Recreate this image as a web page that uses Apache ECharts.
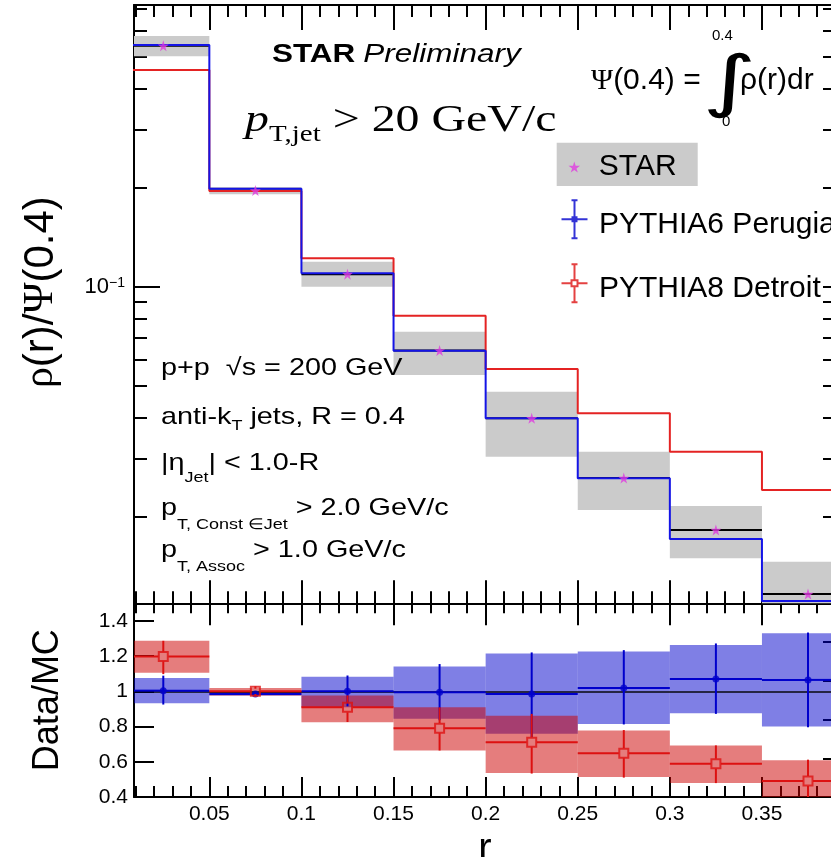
<!DOCTYPE html>
<html><head><meta charset="utf-8">
<script src="https://cdn.jsdelivr.net/npm/echarts@6/dist/echarts.min.js"></script>
<style>html,body{margin:0;padding:0;background:#fff;}#c{width:831px;height:857px;}</style>
</head><body><div id="c"></div>
<script>
// ---------------- data ----------------
const binEdges = [0.00, 0.05, 0.10, 0.15, 0.20, 0.25, 0.30, 0.35, 0.40];
const starValues   = [0.540, 0.1960, 0.1092, 0.0640, 0.0398, 0.0262, 0.0182, 0.01163];
const starSysLow   = [0.502, 0.1910, 0.1000, 0.0539, 0.0304, 0.02095, 0.01493, 0.0092];
const starSysHigh  = [0.578, 0.2010, 0.1191, 0.0730, 0.0479, 0.0315, 0.02155, 0.01459];
const pythia6Values = [0.543, 0.1985, 0.1098, 0.0639, 0.0398, 0.02615, 0.0171, 0.01108];
const pythia8Values = [0.456, 0.1955, 0.1220, 0.0816, 0.0562, 0.0412, 0.0315, 0.0241];

const p6Ratio    = [1.004, 0.985, 1.000, 0.995, 0.985, 1.019, 1.070, 1.065];
const p6StatLow  = [0.925, 0.978, 0.915, 0.836, 0.740, 0.812, 0.872, 0.796];
const p6StatHigh = [1.089, 0.992, 1.090, 1.155, 1.221, 1.234, 1.272, 1.334];
const p6BandLow  = [0.932, 0.977, 0.910, 0.844, 0.759, 0.815, 0.876, 0.800];
const p6BandHigh = [1.076, 0.995, 1.083, 1.141, 1.215, 1.226, 1.263, 1.330];

const p8Ratio    = [1.198, 1.000, 0.909, 0.791, 0.711, 0.649, 0.589, 0.491];
const p8StatLow  = [1.098, 0.985, 0.826, 0.664, 0.533, 0.510, 0.479, 0.370];
const p8StatHigh = [1.287, 1.015, 0.977, 0.909, 0.872, 0.780, 0.693, 0.612];
const p8BandLow  = [1.105, 0.976, 0.825, 0.664, 0.536, 0.513, 0.479, 0.360];
const p8BandHigh = [1.287, 1.019, 0.976, 0.909, 0.862, 0.778, 0.693, 0.608];

const xMajorTicks = [0.05, 0.10, 0.15, 0.20, 0.25, 0.30, 0.35];
const xMinorTicks = [0.01, 0.02, 0.03, 0.04, 0.06, 0.07, 0.08, 0.09, 0.11, 0.12, 0.13, 0.14,
  0.16, 0.17, 0.18, 0.19, 0.21, 0.22, 0.23, 0.24, 0.26, 0.27, 0.28, 0.29, 0.31, 0.32, 0.33, 0.34,
  0.36, 0.37, 0.38, 0.39];
const yLogMajorTicks = [0.1];
const yLogMinorTicks = [0.02, 0.03, 0.04, 0.05, 0.06, 0.07, 0.08, 0.09, 0.2, 0.3, 0.4, 0.5, 0.6, 0.7];
const ratioTicks = [0.4, 0.6, 0.8, 1.0, 1.2, 1.4];

// ---------------- style ----------------
const FONT = 'Liberation Sans';
const SERIF = 'Liberation Serif';
const BLUE = '#1414e6';
const RED = '#e42323';
const BLUE_R = '#0000cc';
const RED_R = '#dd1111';
const MAGENTA = '#e03ce0';
const GRAY = '#cbcbcb';
const X_MIN = 0.0091, X_MAX = 0.3902;
const Y_MIN = 0.0109, Y_MAX = 0.7187;

const STAR_PATH = 'path://M50,0 L61,35 L98,35 L68,57 L79,91 L50,70 L21,91 L32,57 L2,35 L39,35 Z';
const CROSS_FILLED = 'path://M12,0h2v40h-2z M10,0h6v2h-6z M10,38h6v2h-6z M0,19h26v2h-26z M10,17h6v6h-6z';
const CROSS_OPEN = 'path://M12,0h2v16h-2z M10,0h6v2h-6z M12,24h2v16h-2z M10,38h6v2h-6z M0,19h9v2h-9z M17,19h9v2h-9z M9,16h8v8h-8z M11,18v4h4v-4z';

// ---------------- derived tables ----------------
const centers = starValues.map((v, i) => (binEdges[i] + binEdges[i + 1]) / 2);
function stepData(vals) {
  const d = vals.map((v, i) => [binEdges[i], v]);
  d.push([binEdges[vals.length], vals[vals.length - 1]]);
  return d;
}
function bandData(lo, hi) { return lo.map((l, i) => [binEdges[i], binEdges[i + 1], l, hi[i]]); }
function errData(vals, lo, hi) { return vals.map((v, i) => [binEdges[i], binEdges[i + 1], centers[i], v, lo[i], hi[i]]); }

function clipRect(r, cs) {
  return echarts.graphic.clipRectByRect(r, { x: cs.x, y: cs.y, width: cs.width, height: cs.height });
}
function bandRender(fill) {
  return function (params, api) {
    const a = api.coord([api.value(0), api.value(3)]);
    const b = api.coord([api.value(1), api.value(2)]);
    const shape = clipRect({ x: a[0], y: a[1], width: b[0] - a[0], height: b[1] - a[1] }, params.coordSys);
    return shape && { type: 'rect', shape: shape, style: { fill: fill } };
  };
}
function hLineRender(color) {
  return function (params, api) {
    const cs = params.coordSys;
    const a = api.coord([api.value(0), api.value(2)]);
    const b = api.coord([api.value(1), api.value(2)]);
    if (a[1] < cs.y || a[1] > cs.y + cs.height) return null;
    return { type: 'line', shape: { x1: Math.max(a[0], cs.x), y1: a[1], x2: Math.min(b[0], cs.x + cs.width), y2: b[1] },
      style: { stroke: color, lineWidth: 2 } };
  };
}
function errRender(color, gap) {
  return function (params, api) {
    const cs = params.coordSys;
    const yTop = cs.y, yBot = cs.y + cs.height, xL = cs.x, xR = cs.x + cs.width;
    const clY = v => Math.min(Math.max(v, yTop), yBot);
    const a = api.coord([api.value(0), api.value(3)]);
    const b = api.coord([api.value(1), api.value(3)]);
    const c = api.coord([api.value(2), api.value(3)]);
    const lo = api.coord([api.value(2), api.value(4)]);
    const hi = api.coord([api.value(2), api.value(5)]);
    const st = { stroke: color, lineWidth: 2 };
    const ch = [];
    if (c[1] >= yTop && c[1] <= yBot) {
      ch.push({ type: 'line', shape: { x1: Math.max(a[0], xL), y1: c[1], x2: Math.min(c[0] - gap, xR), y2: c[1] }, style: st });
      ch.push({ type: 'line', shape: { x1: Math.max(c[0] + gap, xL), y1: c[1], x2: Math.min(b[0], xR), y2: c[1] }, style: st });
    }
    ch.push({ type: 'line', shape: { x1: c[0], y1: clY(hi[1]), x2: c[0], y2: clY(c[1] - gap) }, style: st });
    ch.push({ type: 'line', shape: { x1: c[0], y1: clY(c[1] + gap), x2: c[0], y2: clY(lo[1]) }, style: st });
    return { type: 'group', children: ch };
  };
}

// ---------------- axes ----------------
const axLine = { show: true, lineStyle: { color: '#000', width: 2 } };
function xAx(grid, pos, ticks, len, extra) {
  return Object.assign({
    type: 'value', gridIndex: grid, position: pos, min: X_MIN, max: X_MAX,
    axisLine: { show: false }, splitLine: { show: false },
    axisTick: { show: true, inside: true, length: len, customValues: ticks, lineStyle: { color: '#000', width: 2 } },
    axisLabel: { show: false }
  }, extra || {});
}
const xAxes = [
  xAx(0, 'bottom', xMajorTicks, 23, { axisLine: axLine }),
  xAx(0, 'bottom', xMinorTicks, 12),
  xAx(0, 'top', xMajorTicks, 25, { axisLine: axLine }),
  xAx(0, 'top', xMinorTicks, 12),
  xAx(1, 'bottom', xMajorTicks, 20, {
    axisLine: axLine,
    axisLabel: { show: true, customValues: xMajorTicks, margin: 7, fontSize: 21, fontFamily: FONT, color: '#000' },
    name: 'r', nameLocation: 'middle', nameGap: 33,
    nameTextStyle: { fontSize: 40, fontFamily: FONT, color: '#000' }
  }),
  xAx(1, 'bottom', xMinorTicks, 11),
  xAx(1, 'top', xMajorTicks, 22, { axisLine: axLine }),
  xAx(1, 'top', xMinorTicks, 10)
];
function logAx(pos, ticks, len, extra) {
  return Object.assign({
    type: 'log', logBase: 10, gridIndex: 0, position: pos, min: Y_MIN, max: Y_MAX,
    axisLine: { show: false }, splitLine: { show: false },
    axisTick: { show: true, inside: true, length: len, customValues: ticks, lineStyle: { color: '#000', width: 2 } },
    axisLabel: { show: false }
  }, extra || {});
}
const yAxes = [
  logAx('left', yLogMajorTicks, 26, {
    axisLine: axLine,
    axisLabel: {
      show: true, customValues: yLogMajorTicks, margin: 9, color: '#000',
      formatter: () => '{a|10}{b|\u22121}',
      rich: { a: { fontSize: 22, fontFamily: FONT, lineHeight: 22, verticalAlign: 'bottom' },
              b: { fontSize: 14, fontFamily: FONT, lineHeight: 14, verticalAlign: 'top' } }
    },
    name: '{g|\u03c1}(r)/{g|\u03a8}(0.4)', nameLocation: 'middle', nameGap: 72,
    nameTextStyle: { fontSize: 42, fontFamily: FONT, color: '#000', padding: [0, 0, 0, 24],
      rich: { g: { fontSize: 42, fontFamily: SERIF } } }
  }),
  logAx('left', yLogMinorTicks, 13),
  logAx('right', yLogMajorTicks.concat(yLogMinorTicks), 13),
  {
    type: 'value', gridIndex: 1, position: 'left', min: 0.4, max: 1.5,
    axisLine: axLine, splitLine: { show: false },
    axisTick: { show: true, inside: true, length: 20, customValues: ratioTicks, lineStyle: { color: '#000', width: 2 } },
    axisLabel: { show: true, customValues: ratioTicks, margin: 6, fontSize: 21, fontFamily: FONT, color: '#000' },
    name: 'Data/MC', nameLocation: 'middle', nameGap: 68,
    nameTextStyle: { fontSize: 36, fontFamily: FONT, color: '#000' }
  },
  {
    type: 'value', gridIndex: 1, position: 'right', min: 0.4, max: 1.4,
    axisLine: { show: false }, splitLine: { show: false },
    axisTick: { show: true, inside: true, length: 13, customValues: ratioTicks, lineStyle: { color: '#000', width: 2 } },
    axisLabel: { show: false }
  }
];

// ---------------- series ----------------
const TOP = { xAxisIndex: 0, yAxisIndex: 0 };
const BOT = { xAxisIndex: 4, yAxisIndex: 3 };
const series = [
  Object.assign({ name: 'STAR', type: 'scatter', data: centers.map((c, i) => [c, starValues[i]]),
    symbol: STAR_PATH, symbolSize: 11, itemStyle: { color: MAGENTA }, z: 8 }, TOP),
  Object.assign({ name: 'PYTHIA6 Perugia', type: 'scatter', data: centers.map((c, i) => [c, p6Ratio[i]]),
    symbol: 'circle', symbolSize: 7, itemStyle: { color: BLUE_R }, z: 7 }, BOT),
  Object.assign({ name: 'PYTHIA8 Detroit', type: 'scatter', data: centers.map((c, i) => [c, p8Ratio[i]]),
    symbol: 'rect', symbolSize: 9, itemStyle: { color: 'rgba(0,0,0,0)', borderColor: RED_R, borderWidth: 2 }, z: 9 }, BOT),

  Object.assign({ name: 'STAR', type: 'custom', renderItem: bandRender(GRAY), data: bandData(starSysLow, starSysHigh),
    encode: { x: [0, 1], y: [2, 3] }, z: 2 }, TOP),
  Object.assign({ name: 'STAR', type: 'custom', renderItem: hLineRender('#000'),
    data: starValues.map((v, i) => [binEdges[i], binEdges[i + 1], v]), encode: { x: [0, 1], y: 2 }, z: 3 }, TOP),
  Object.assign({ name: 'PYTHIA8 Detroit', type: 'line', step: 'end', data: stepData(pythia8Values), showSymbol: false,
    symbol: 'none', lineStyle: { color: RED, width: 2 }, itemStyle: { color: RED }, z: 4 }, TOP),
  Object.assign({ name: 'PYTHIA6 Perugia', type: 'line', step: 'end', data: stepData(pythia6Values), showSymbol: false,
    symbol: 'none', lineStyle: { color: BLUE, width: 2 }, itemStyle: { color: BLUE }, z: 5 }, TOP),

  Object.assign({ name: 'PYTHIA6 Perugia', type: 'custom', renderItem: bandRender('rgba(0,0,204,0.5)'),
    data: bandData(p6BandLow, p6BandHigh), encode: { x: [0, 1], y: [2, 3] }, z: 2,
    markLine: { silent: true, symbol: 'none', label: { show: false }, animation: false,
      lineStyle: { color: '#000', width: 2, type: 'solid', opacity: 0.7 }, data: [{ yAxis: 1 }] } }, BOT),
  Object.assign({ name: 'PYTHIA8 Detroit', type: 'custom', renderItem: bandRender('rgba(204,0,0,0.51)'),
    data: bandData(p8BandLow, p8BandHigh), encode: { x: [0, 1], y: [2, 3] }, z: 3 }, BOT),
  Object.assign({ name: 'PYTHIA6 Perugia', type: 'custom', renderItem: errRender(BLUE_R, 0),
    data: errData(p6Ratio, p6StatLow, p6StatHigh), encode: { x: [0, 1, 2], y: [3, 4, 5] }, z: 6 }, BOT),
  Object.assign({ name: 'PYTHIA8 Detroit', type: 'custom', renderItem: errRender(RED_R, 5),
    data: errData(p8Ratio, p8StatLow, p8StatHigh), encode: { x: [0, 1, 2], y: [3, 4, 5] }, z: 8 }, BOT)
];

// ---------------- annotations ----------------
function T(x, y, text, rich, o) {
  o = o || {};
  return { type: 'text', x: x, y: y, z: 100, scaleX: o.sx || 1,
    style: { text: text, rich: rich || {}, fill: '#000', fontSize: o.fs || 24, fontFamily: o.ff || FONT,
      fontWeight: o.fw || 'normal', align: 'left', verticalAlign: o.va || 'middle' } };
}
function subRich(F, f, P) {
  return {
    m: { fontSize: F, lineHeight: F, fontFamily: FONT, verticalAlign: 'bottom', padding: [0, 0, P, 0] },
    s: { fontSize: f, lineHeight: f, fontFamily: FONT, verticalAlign: 'bottom' }
  };
}
const graphic = [
  { type: 'rect', z: 0, shape: { x: 556.7, y: 142.7, width: 141, height: 43.3 }, style: { fill: GRAY } },
  T(272, 55, '{b|STAR} {i|Preliminary}', {
    b: { fontSize: 26, fontWeight: 'bold', fontFamily: FONT },
    i: { fontSize: 26, fontStyle: 'italic', fontFamily: FONT } }, { sx: 1.21 }),
  T(245, 108, '{p|p}{s|T,jet}{n| > 20 GeV/c}', {
    p: { fontSize: 38, lineHeight: 38, fontFamily: SERIF, fontStyle: 'italic', verticalAlign: 'bottom', padding: [0, 0, 6, 0] },
    s: { fontSize: 23, lineHeight: 23, fontFamily: SERIF, verticalAlign: 'bottom' },
    n: { fontSize: 38, lineHeight: 38, fontFamily: SERIF, verticalAlign: 'bottom', padding: [0, 0, 6, 0] } },
    { sx: 1.26, va: 'top' }),
  T(591, 81, '{g|\u03a8}(0.4) =', { g: { fontSize: 30, fontFamily: SERIF } }, { fs: 30 }),
  T(702, 86, '\u222b', null, { fs: 68, ff: 'DejaVu Sans', sx: 1.55 }),
  T(712, 36, '0.4', null, { fs: 15 }),
  T(722, 122, '0', null, { fs: 15 }),
  T(740, 81, '\u03c1(r)dr', null, { fs: 30 }),
  T(161, 368, 'p+p  \u221as = 200 GeV', null, { fs: 24, sx: 1.2 }),
  T(161, 409, '{m|anti-k}{s|T}{m| jets, R = 0.4}', subRich(24, 15, 4), { sx: 1.2, va: 'top' }),
  T(161, 461, '{m||\u03b7}{s|Jet}{m|| < 1.0-R}', subRich(24, 15, 10), { sx: 1.2, va: 'top' }),
  T(161, 508, '{m|p}{s|T, Const \u2208Jet}{m| > 2.0 GeV/c}', subRich(24, 15, 12), { sx: 1.2, va: 'top' }),
  T(161, 550, '{m|p}{s|T, Assoc}{m| > 1.0 GeV/c}', subRich(24, 15, 12), { sx: 1.2, va: 'top' })
];

const legendRich = { t: { fontSize: 30, fontFamily: FONT, color: '#000', padding: [10, 0, 0, 0] } };
const legendText = { fontSize: 30, fontFamily: FONT, color: '#000' };
const legends = [
  { data: [{ name: 'STAR', icon: STAR_PATH, itemStyle: { color: MAGENTA, borderWidth: 0 } }],
    left: 568.5, top: 152, padding: 0, itemWidth: 39, itemHeight: 11, selectedMode: false, textStyle: legendText },
  { data: [{ name: 'PYTHIA6 Perugia', icon: CROSS_FILLED, itemStyle: { color: BLUE_R, borderWidth: 0 } }],
    left: 561.5, top: 199.3, padding: 0, itemWidth: 39, itemHeight: 40, selectedMode: false,
    formatter: n => '{t|' + n + '}', textStyle: Object.assign({ rich: legendRich }, legendText) },
  { data: [{ name: 'PYTHIA8 Detroit', icon: CROSS_OPEN, itemStyle: { color: RED_R, borderWidth: 0 } }],
    left: 561.5, top: 263.3, padding: 0, itemWidth: 39, itemHeight: 40, selectedMode: false,
    formatter: n => '{t|' + n + '}', textStyle: Object.assign({ rich: legendRich }, legendText) }
];

const chart = echarts.init(document.getElementById('c'), null, { renderer: 'canvas' });
chart.setOption({
  animation: false,
  backgroundColor: '#fff',
  grid: [
    { left: 134, top: 5, width: 702, height: 598.3, outerBoundsMode: 'none', containLabel: false },
    { left: 134, top: 603.3, width: 702, height: 193.7, outerBoundsMode: 'none', containLabel: false }
  ],
  xAxis: xAxes,
  yAxis: yAxes,
  legend: legends,
  series: series,
  graphic: graphic
});
</script>
</body></html>
